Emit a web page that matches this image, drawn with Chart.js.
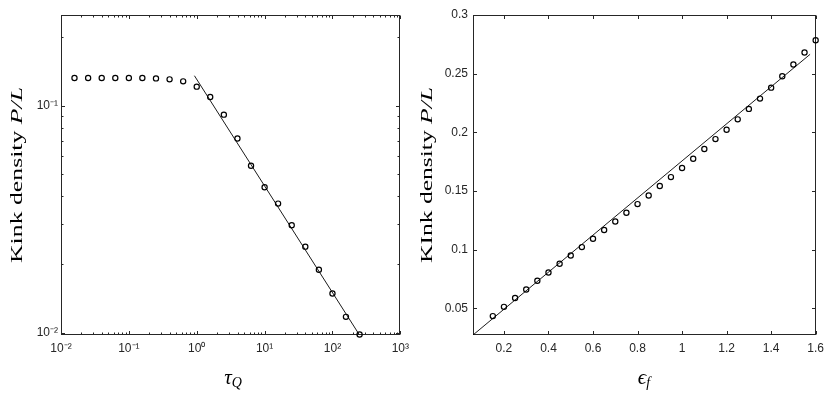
<!DOCTYPE html>
<html>
<head>
<meta charset="utf-8">
<script src="https://cdn.jsdelivr.net/npm/chart.js@4.4.1/dist/chart.umd.min.js"></script>
<style>
html, body { margin: 0; padding: 0; background: #fff; }
#wrap { position: relative; width: 830px; height: 393px; }
.panel { position: absolute; top: 0; width: 415px; height: 393px; }
</style>
</head>
<body>
<div id="wrap">
	<div class="panel" style="left:0"><canvas id="izq" width="415" height="393"></canvas></div>
	<div class="panel" style="left:415px"><canvas id="der" width="415" height="393"></canvas></div>
</div>
<script>
// left panel: kink density against quench time (log-log)
const tauQ = [0.0158, 0.0251, 0.0398, 0.0631, 0.1, 0.158, 0.251, 0.398, 0.631, 1,
	1.58, 2.51, 3.98, 6.31, 10, 15.8, 25.1, 39.8, 63.1, 100, 158, 251];
const densTau = [0.1324, 0.1324, 0.1324, 0.1324, 0.1324, 0.1324, 0.1319, 0.1306, 0.128, 0.1213,
	0.1092, 0.0913, 0.0716, 0.0543, 0.0437, 0.037, 0.0297, 0.0239, 0.0189, 0.01486, 0.01172, 0.0098];
const fitTauX = [0.925, 249];
const fitTauY = [0.1355, 0.00977];
const tauTicks = [0.01, 0.1, 1, 10, 100, 1000];
const tauLabels = ["10⁻²", "10⁻¹", "10⁰", "10¹", "10²", "10³"];
const densTauTicks = [0.01, 0.1];
const densTauLabels = ["10⁻²", "10⁻¹"];

// right panel: kink density against final epsilon
const epsF = [0.15, 0.2, 0.25, 0.3, 0.35, 0.4, 0.45, 0.5, 0.55, 0.6, 0.65, 0.7, 0.75, 0.8, 0.85,
	0.9, 0.95, 1, 1.05, 1.1, 1.15, 1.2, 1.25, 1.3, 1.35, 1.4, 1.45, 1.5, 1.55, 1.6];
const densEps = [0.0435, 0.0514, 0.0589, 0.0662, 0.0736, 0.0807, 0.0881, 0.0951, 0.1023, 0.1094,
	0.1168, 0.1241, 0.1315, 0.1389, 0.1463, 0.1543, 0.1619, 0.1696, 0.1776, 0.1858,
	0.1943, 0.2023, 0.2111, 0.22, 0.2288, 0.2381, 0.2478, 0.2578, 0.2681, 0.2785];
const fitEpsX = [0.061, 1.575];
const fitEpsY = [0.0274, 0.2665];
const epsTicks = [0.2, 0.4, 0.6, 0.8, 1, 1.2, 1.4, 1.6];
const densEpsTicks = [0.05, 0.1, 0.15, 0.2, 0.25, 0.3];

const SERIF = '"Liberation Serif", "DejaVu Serif", serif';
const tickFont = { family: '"Liberation Sans", Arial, sans-serif', size: 12 };
const axisColor = "#262626";

// log minor ticks 2..9 inside every decade
function logTicks(majors, min, max) {
	let out = [];
	majors.forEach((m) => out.push({ value: m, major: true }));
	for (let e = -3; e <= 3; e++) {
		for (let k = 2; k <= 9; k++) {
			let v = k * Math.pow(10, e);
			if (v > min && v < max) out.push({ value: v, major: false });
		}
	}
	return out.sort((a, b) => a.value - b.value);
}

function labelFor(ticks, labels) {
	return (value) => {
		let i = ticks.findIndex((t) => Math.abs(t - value) / t < 1e-6);
		return i >= 0 ? labels[i] : "";
	};
}

function numLabel(value) {
	return String(Number(value.toFixed(2)));
}

// draw pieces of text (some italic / subscript) as one title
function drawTitle(ctx, parts, cx, cy, rotate, length) {
	ctx.save();
	let w = 0;
	parts.forEach((p) => {
		ctx.font = p.font;
		p.w = ctx.measureText(p.text).width;
		w += p.w;
	});
	ctx.translate(cx, cy);
	if (rotate) ctx.rotate(-Math.PI / 2);
	if (length) ctx.scale(length / w, 1);
	ctx.fillStyle = "#000";
	ctx.textBaseline = "middle";
	ctx.textAlign = "left";
	let x = -w / 2;
	parts.forEach((p) => {
		ctx.font = p.font;
		ctx.fillText(p.text, x, p.dy || 0);
		x += p.w;
	});
	ctx.restore();
}

const marco = {
	id: "marco",
	beforeDatasetsDraw(chart) {
		const { ctx, chartArea: a, scales } = chart;
		const l = Math.round(a.left) + 0.5, r = Math.round(a.right) - 0.5;
		const t = Math.round(a.top) + 0.5, b = Math.round(a.bottom) - 0.5;
		ctx.save();
		ctx.strokeStyle = axisColor;
		ctx.lineWidth = 1;
		ctx.beginPath();
		scales.x.ticks.forEach((tk) => {
			const px = Math.round(scales.x.getPixelForValue(tk.value)) + 0.5;
			const len = tk.major ? 3.5 : 2;
			ctx.moveTo(px, b); ctx.lineTo(px, b - len);
			ctx.moveTo(px, t); ctx.lineTo(px, t + len);
		});
		scales.y.ticks.forEach((tk) => {
			const py = Math.round(scales.y.getPixelForValue(tk.value)) + 0.5;
			const len = tk.major ? 3.5 : 2;
			ctx.moveTo(l, py); ctx.lineTo(l + len, py);
			ctx.moveTo(r, py); ctx.lineTo(r - len, py);
		});
		ctx.stroke();
		ctx.strokeRect(l, t, r - l, b - t);
		ctx.restore();
	},
	afterDraw(chart, args, opts) {
		drawTitle(chart.ctx, opts.yTitle, opts.yPos[0], opts.yPos[1], true, opts.yLen);
		drawTitle(chart.ctx, opts.xTitle, opts.xPos[0], opts.xPos[1], false, null);
	},
};

function baseScale(extra) {
	return Object.assign({
		grid: { display: false, drawTicks: false },
		border: { display: false },
	}, extra);
}

function pointSet(xs, ys) {
	return {
		data: xs.map((x, i) => ({ x: x, y: ys[i] })),
		showLine: false,
		pointStyle: "circle",
		pointRadius: 2.6,
		pointBorderWidth: 1.2,
		pointBorderColor: "#000",
		pointBackgroundColor: "rgba(0,0,0,0)",
		clip: false,
	};
}

function fitSet(xs, ys) {
	return {
		data: xs.map((x, i) => ({ x: x, y: ys[i] })),
		showLine: true,
		borderColor: "#000",
		borderWidth: 0.9,
		pointRadius: 0,
	};
}

const comunes = {
	responsive: false,
	animation: false,
	devicePixelRatio: 1,
	events: [],
};

const graficoIzq = new Chart(document.getElementById("izq"), {
	type: "scatter",
	data: { datasets: [pointSet(tauQ, densTau), fitSet(fitTauX, fitTauY)] },
	options: Object.assign({}, comunes, {
		layout: { padding: { top: 15, right: 9, left: 0, bottom: 0 } },
		scales: {
			x: baseScale({
				type: "logarithmic", min: 0.01, max: 1000,
				afterBuildTicks: (s) => { s.ticks = logTicks(tauTicks, 0.01, 1000); },
				afterFit: (s) => { s.height = 58; },
				ticks: { autoSkip: false, maxRotation: 0, padding: 6, font: tickFont, color: axisColor,
					callback: labelFor(tauTicks, tauLabels) },
			}),
			y: baseScale({
				type: "logarithmic", min: 0.00975, max: 0.251,
				afterBuildTicks: (s) => { s.ticks = logTicks(densTauTicks, 0.00975, 0.251); },
				afterFit: (s) => { s.width = 61; },
				ticks: { autoSkip: false, padding: 3, font: tickFont, color: axisColor,
					callback: labelFor(densTauTicks, densTauLabels) },
			}),
		},
		plugins: {
			legend: { display: false },
			tooltip: { enabled: false },
			marco: {
				yTitle: [{ text: "Kink density ", font: "17px " + SERIF }, { text: "P/L", font: "italic 17px " + SERIF }],
				yPos: [18, 175], yLen: 176,
				xTitle: [{ text: "τ", font: "italic 21px " + SERIF }, { text: "Q", font: "italic 14px " + SERIF, dy: 5 }],
				xPos: [233, 378],
			},
		},
	}),
	plugins: [marco],
});

const graficoDer = new Chart(document.getElementById("der"), {
	type: "scatter",
	data: { datasets: [pointSet(epsF, densEps), fitSet(fitEpsX, fitEpsY)] },
	options: Object.assign({}, comunes, {
		layout: { padding: { top: 15, right: 13, left: 0, bottom: 0 } },
		scales: {
			x: baseScale({
				type: "linear", min: 0.061, max: 1.6,
				afterBuildTicks: (s) => { s.ticks = epsTicks.map((v) => ({ value: v, major: true })); },
				afterFit: (s) => { s.height = 58; },
				ticks: { autoSkip: false, maxRotation: 0, padding: 6, font: tickFont, color: axisColor,
					callback: numLabel },
			}),
			y: baseScale({
				type: "linear", min: 0.0274, max: 0.3,
				afterBuildTicks: (s) => { s.ticks = densEpsTicks.map((v) => ({ value: v, major: true })); },
				afterFit: (s) => { s.width = 58; },
				ticks: { autoSkip: false, padding: 5, font: tickFont, color: axisColor,
					callback: numLabel },
			}),
		},
		plugins: {
			legend: { display: false },
			tooltip: { enabled: false },
			marco: {
				yTitle: [{ text: "KInk density ", font: "17px " + SERIF }, { text: "P/L", font: "italic 17px " + SERIF }],
				yPos: [13, 175], yLen: 176,
				xTitle: [{ text: "ϵ", font: "italic 21px " + SERIF }, { text: "f", font: "italic 14px " + SERIF, dy: 5 }],
				xPos: [229, 378],
			},
		},
	}),
	plugins: [marco],
});
</script>
</body>
</html>
